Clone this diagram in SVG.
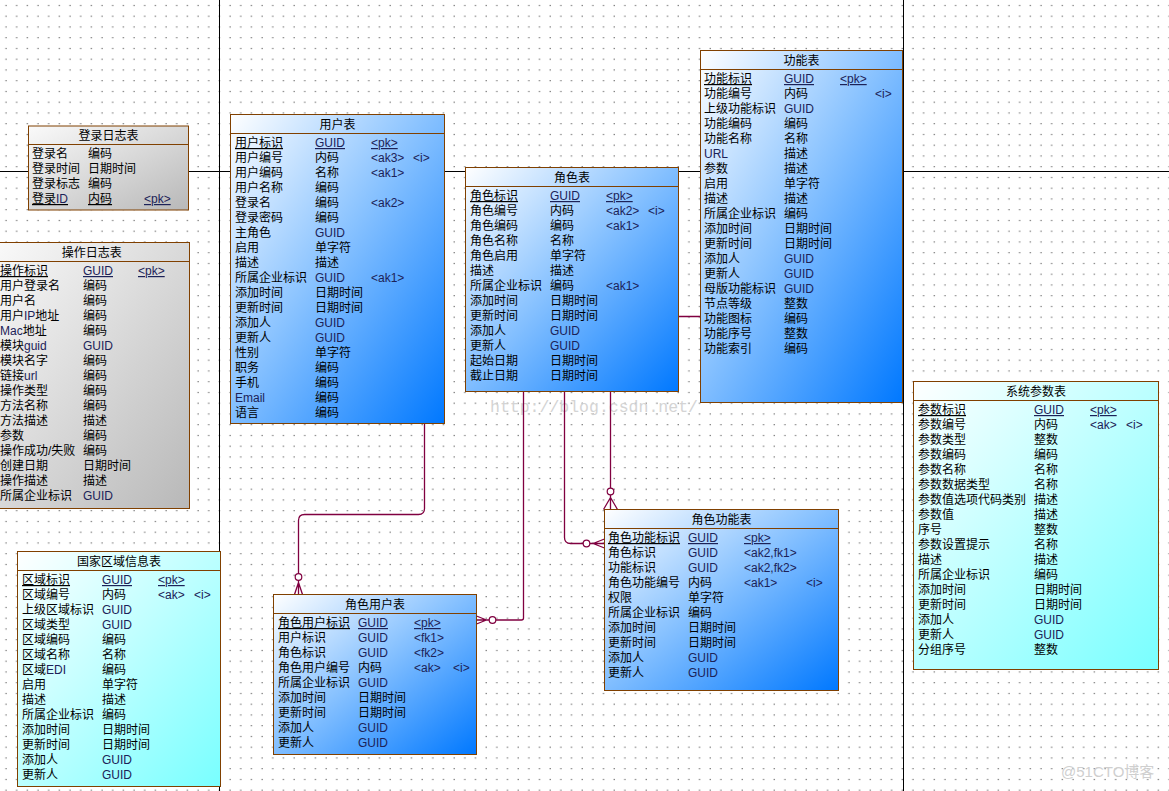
<svg xmlns="http://www.w3.org/2000/svg" width="1169" height="791" viewBox="0 0 1169 791">
<defs>
<pattern id="grid" patternUnits="userSpaceOnUse" x="0" y="0" width="10.67" height="10.75">
<rect x="5.5" y="5" width="1" height="1" fill="#222"/>
</pattern>
<linearGradient id="gBlue" x1="0" y1="0" x2="1" y2="1">
<stop offset="0" stop-color="#ffffff"/>
<stop offset="0.45" stop-color="#8cc4ff"/>
<stop offset="1" stop-color="#0078ff"/>
</linearGradient>
<linearGradient id="gGray" x1="0" y1="0" x2="1" y2="1">
<stop offset="0" stop-color="#fafafa"/>
<stop offset="1" stop-color="#b8b8b8"/>
</linearGradient>
<linearGradient id="gCyan" x1="0" y1="0" x2="1" y2="1">
<stop offset="0" stop-color="#ffffff"/>
<stop offset="1" stop-color="#78ffff"/>
</linearGradient>
</defs>
<style>
text{font-family:"Liberation Sans","Noto Sans CJK SC",sans-serif;font-size:12px;fill:#000}
.ttl{text-anchor:middle}
.e{fill:#1c2258}
.u{text-decoration:underline}
.box{stroke:#804000;stroke-width:1}
.sep{stroke:#804000;stroke-width:1}
.pg{stroke:#000;stroke-width:1;fill:none}
.cn{stroke:#800040;stroke-width:1.3;fill:none}
.ring{stroke:#800040;stroke-width:1.2;fill:#fff}
.wm{font-family:"Liberation Mono",monospace;font-size:16.5px;fill:#d4d4d4}
.wm2{font-size:15px;fill:#cfcfcf}
</style>
<rect width="1169" height="791" fill="#fff"/>
<rect width="1169" height="791" fill="url(#grid)"/>
<g id="page-lines">
<line class="pg" x1="0" y1="171.5" x2="1169" y2="171.5"/>
<line class="pg" x1="219.5" y1="0" x2="219.5" y2="791"/>
<line class="pg" x1="903.5" y1="0" x2="903.5" y2="791"/>
</g>
<text class="wm" x="490" y="412">http://blog.csdn.net/</text>
<g id="connectors">
<path class="cn" d="M424.5,423.5 V508.5 Q424.5,514.5 418.5,514.5 H304.5 Q298.5,514.5 298.5,520.5 V573.7 M298.5,580.3 V594.5 M298.5,582.5 L294.5,594.5 M298.5,582.5 L302.5,594.5"/>
<circle class="ring" cx="298.5" cy="577" r="3.3"/>
<path class="cn" d="M523.5,391.5 V618 Q523.5,620 521.5,620 H495.8 M489.2,620 H476.5 M486.5,620 L476.5,616 M486.5,620 L476.5,624"/>
<circle class="ring" cx="492.5" cy="620" r="3.3"/>
<path class="cn" d="M564.5,391.5 V537.5 Q564.5,543.5 570.5,543.5 H583.2 M589.8,543.5 H604.5 M593,543.5 L604.5,539 M593,543.5 L604.5,548"/>
<circle class="ring" cx="586.5" cy="543.5" r="3.3"/>
<path class="cn" d="M700.5,316.5 H610.5 V488.2 M610.5,494.8 V509.5 M610.5,497.5 L603.5,509.5 M610.5,497.5 L617.5,509.5"/>
<circle class="ring" cx="610.5" cy="491.5" r="3.3"/>
</g>
<g id="login-log">
<rect class="box" x="28.5" y="126" width="160" height="84" fill="url(#gGray)"/>
<line class="sep" x1="28.5" y1="144.5" x2="188.5" y2="144.5"/>
<text class="ttl" x="108.5" y="139.5">登录日志表</text>
<text x="32" y="158">登录名</text><text x="88" y="158">编码</text>
<text x="32" y="173">登录时间</text><text x="88" y="173">日期时间</text>
<text x="32" y="188">登录标志</text><text x="88" y="188">编码</text>
<text class="u" x="32" y="203">登录<tspan class="e">ID</tspan></text><text class="u" x="88" y="203">内码</text><text class="e u" x="144" y="203">&lt;pk&gt;</text>
</g>
<g id="op-log">
<rect class="box" x="-6" y="242.5" width="195.5" height="266" fill="url(#gGray)"/>
<line class="sep" x1="-6" y1="261.5" x2="189.5" y2="261.5"/>
<text class="ttl" x="91.7" y="256.5">操作日志表</text>
<text class="u" x="0" y="275">操作标识</text><text class="e u" x="83" y="275">GUID</text><text class="e u" x="138" y="275">&lt;pk&gt;</text>
<text x="0" y="290">用户登录名</text><text x="83" y="290">编码</text>
<text x="0" y="305">用户名</text><text x="83" y="305">编码</text>
<text x="0" y="320">用户<tspan class="e">IP</tspan>地址</text><text x="83" y="320">编码</text>
<text x="0" y="335"><tspan class="e">Mac</tspan>地址</text><text x="83" y="335">编码</text>
<text x="0" y="350">模块<tspan class="e">guid</tspan></text><text class="e" x="83" y="350">GUID</text>
<text x="0" y="365">模块名字</text><text x="83" y="365">编码</text>
<text x="0" y="380">链接<tspan class="e">url</tspan></text><text x="83" y="380">编码</text>
<text x="0" y="395">操作类型</text><text x="83" y="395">编码</text>
<text x="0" y="410">方法名称</text><text x="83" y="410">编码</text>
<text x="0" y="425">方法描述</text><text x="83" y="425">描述</text>
<text x="0" y="440">参数</text><text x="83" y="440">编码</text>
<text x="0" y="455">操作成功/失败</text><text x="83" y="455">编码</text>
<text x="0" y="470">创建日期</text><text x="83" y="470">日期时间</text>
<text x="0" y="485">操作描述</text><text x="83" y="485">描述</text>
<text x="0" y="500">所属企业标识</text><text class="e" x="83" y="500">GUID</text>
</g>
<g id="user">
<rect class="box" x="230.5" y="114.5" width="214" height="309" fill="url(#gBlue)"/>
<line class="sep" x1="230.5" y1="133.5" x2="444.5" y2="133.5"/>
<text class="ttl" x="337.5" y="128.5">用户表</text>
<text class="u" x="235" y="147">用户标识</text><text class="e u" x="315" y="147">GUID</text><text class="e u" x="371" y="147">&lt;pk&gt;</text>
<text x="235" y="162">用户编号</text><text x="315" y="162">内码</text><text class="e" x="371" y="162">&lt;ak3&gt;</text><text class="e" x="413" y="162">&lt;i&gt;</text>
<text x="235" y="177">用户编码</text><text x="315" y="177">名称</text><text class="e" x="371" y="177">&lt;ak1&gt;</text>
<text x="235" y="192">用户名称</text><text x="315" y="192">编码</text>
<text x="235" y="207">登录名</text><text x="315" y="207">编码</text><text class="e" x="371" y="207">&lt;ak2&gt;</text>
<text x="235" y="222">登录密码</text><text x="315" y="222">编码</text>
<text x="235" y="237">主角色</text><text class="e" x="315" y="237">GUID</text>
<text x="235" y="252">启用</text><text x="315" y="252">单字符</text>
<text x="235" y="267">描述</text><text x="315" y="267">描述</text>
<text x="235" y="282">所属企业标识</text><text class="e" x="315" y="282">GUID</text><text class="e" x="371" y="282">&lt;ak1&gt;</text>
<text x="235" y="297">添加时间</text><text x="315" y="297">日期时间</text>
<text x="235" y="312">更新时间</text><text x="315" y="312">日期时间</text>
<text x="235" y="327">添加人</text><text class="e" x="315" y="327">GUID</text>
<text x="235" y="342">更新人</text><text class="e" x="315" y="342">GUID</text>
<text x="235" y="357">性别</text><text x="315" y="357">单字符</text>
<text x="235" y="372">职务</text><text x="315" y="372">编码</text>
<text x="235" y="387">手机</text><text x="315" y="387">编码</text>
<text class="e" x="235" y="402">Email</text><text x="315" y="402">编码</text>
<text x="235" y="417">语言</text><text x="315" y="417">编码</text>
</g>
<g id="role">
<rect class="box" x="465.5" y="167.5" width="213" height="224" fill="url(#gBlue)"/>
<line class="sep" x1="465.5" y1="186.5" x2="678.5" y2="186.5"/>
<text class="ttl" x="572" y="181.5">角色表</text>
<text class="u" x="470" y="200">角色标识</text><text class="e u" x="550" y="200">GUID</text><text class="e u" x="606" y="200">&lt;pk&gt;</text>
<text x="470" y="215">角色编号</text><text x="550" y="215">内码</text><text class="e" x="606" y="215">&lt;ak2&gt;</text><text class="e" x="648" y="215">&lt;i&gt;</text>
<text x="470" y="230">角色编码</text><text x="550" y="230">编码</text><text class="e" x="606" y="230">&lt;ak1&gt;</text>
<text x="470" y="245">角色名称</text><text x="550" y="245">名称</text>
<text x="470" y="260">角色启用</text><text x="550" y="260">单字符</text>
<text x="470" y="275">描述</text><text x="550" y="275">描述</text>
<text x="470" y="290">所属企业标识</text><text x="550" y="290">编码</text><text class="e" x="606" y="290">&lt;ak1&gt;</text>
<text x="470" y="305">添加时间</text><text x="550" y="305">日期时间</text>
<text x="470" y="320">更新时间</text><text x="550" y="320">日期时间</text>
<text x="470" y="335">添加人</text><text class="e" x="550" y="335">GUID</text>
<text x="470" y="350">更新人</text><text class="e" x="550" y="350">GUID</text>
<text x="470" y="365">起始日期</text><text x="550" y="365">日期时间</text>
<text x="470" y="380">截止日期</text><text x="550" y="380">日期时间</text>
</g>
<g id="function">
<rect class="box" x="700.5" y="50.5" width="202" height="352" fill="url(#gBlue)"/>
<line class="sep" x1="700.5" y1="69.5" x2="902.5" y2="69.5"/>
<text class="ttl" x="801.5" y="64.5">功能表</text>
<text class="u" x="704" y="83">功能标识</text><text class="e u" x="784" y="83">GUID</text><text class="e u" x="840" y="83">&lt;pk&gt;</text>
<text x="704" y="98">功能编号</text><text x="784" y="98">内码</text><text class="e" x="875" y="98">&lt;i&gt;</text>
<text x="704" y="113">上级功能标识</text><text class="e" x="784" y="113">GUID</text>
<text x="704" y="128">功能编码</text><text x="784" y="128">编码</text>
<text x="704" y="143">功能名称</text><text x="784" y="143">名称</text>
<text class="e" x="704" y="158">URL</text><text x="784" y="158">描述</text>
<text x="704" y="173">参数</text><text x="784" y="173">描述</text>
<text x="704" y="188">启用</text><text x="784" y="188">单字符</text>
<text x="704" y="203">描述</text><text x="784" y="203">描述</text>
<text x="704" y="218">所属企业标识</text><text x="784" y="218">编码</text>
<text x="704" y="233">添加时间</text><text x="784" y="233">日期时间</text>
<text x="704" y="248">更新时间</text><text x="784" y="248">日期时间</text>
<text x="704" y="263">添加人</text><text class="e" x="784" y="263">GUID</text>
<text x="704" y="278">更新人</text><text class="e" x="784" y="278">GUID</text>
<text x="704" y="293">母版功能标识</text><text class="e" x="784" y="293">GUID</text>
<text x="704" y="308">节点等级</text><text x="784" y="308">整数</text>
<text x="704" y="323">功能图标</text><text x="784" y="323">编码</text>
<text x="704" y="338">功能序号</text><text x="784" y="338">整数</text>
<text x="704" y="353">功能索引</text><text x="784" y="353">编码</text>
</g>
<g id="sys-param">
<rect class="box" x="913.5" y="381.5" width="245" height="288" fill="url(#gCyan)"/>
<line class="sep" x1="913.5" y1="400.5" x2="1158.5" y2="400.5"/>
<text class="ttl" x="1036" y="395.5">系统参数表</text>
<text class="u" x="918" y="414">参数标识</text><text class="e u" x="1034" y="414">GUID</text><text class="e u" x="1090" y="414">&lt;pk&gt;</text>
<text x="918" y="429">参数编号</text><text x="1034" y="429">内码</text><text class="e" x="1090" y="429">&lt;ak&gt;</text><text class="e" x="1126" y="429">&lt;i&gt;</text>
<text x="918" y="444">参数类型</text><text x="1034" y="444">整数</text>
<text x="918" y="459">参数编码</text><text x="1034" y="459">编码</text>
<text x="918" y="474">参数名称</text><text x="1034" y="474">名称</text>
<text x="918" y="489">参数数据类型</text><text x="1034" y="489">名称</text>
<text x="918" y="504">参数值选项代码类别</text><text x="1034" y="504">描述</text>
<text x="918" y="519">参数值</text><text x="1034" y="519">描述</text>
<text x="918" y="534">序号</text><text x="1034" y="534">整数</text>
<text x="918" y="549">参数设置提示</text><text x="1034" y="549">名称</text>
<text x="918" y="564">描述</text><text x="1034" y="564">描述</text>
<text x="918" y="579">所属企业标识</text><text x="1034" y="579">编码</text>
<text x="918" y="594">添加时间</text><text x="1034" y="594">日期时间</text>
<text x="918" y="609">更新时间</text><text x="1034" y="609">日期时间</text>
<text x="918" y="624">添加人</text><text class="e" x="1034" y="624">GUID</text>
<text x="918" y="639">更新人</text><text class="e" x="1034" y="639">GUID</text>
<text x="918" y="654">分组序号</text><text x="1034" y="654">整数</text>
</g>
<g id="region">
<rect class="box" x="17.5" y="551.5" width="203" height="235" fill="url(#gCyan)"/>
<line class="sep" x1="17.5" y1="570.5" x2="220.5" y2="570.5"/>
<text class="ttl" x="119" y="565.5">国家区域信息表</text>
<text class="u" x="22" y="584">区域标识</text><text class="e u" x="102" y="584">GUID</text><text class="e u" x="158" y="584">&lt;pk&gt;</text>
<text x="22" y="599">区域编号</text><text x="102" y="599">内码</text><text class="e" x="158" y="599">&lt;ak&gt;</text><text class="e" x="194" y="599">&lt;i&gt;</text>
<text x="22" y="614">上级区域标识</text><text class="e" x="102" y="614">GUID</text>
<text x="22" y="629">区域类型</text><text class="e" x="102" y="629">GUID</text>
<text x="22" y="644">区域编码</text><text x="102" y="644">编码</text>
<text x="22" y="659">区域名称</text><text x="102" y="659">名称</text>
<text x="22" y="674">区域<tspan class="e">EDI</tspan></text><text x="102" y="674">编码</text>
<text x="22" y="689">启用</text><text x="102" y="689">单字符</text>
<text x="22" y="704">描述</text><text x="102" y="704">描述</text>
<text x="22" y="719">所属企业标识</text><text x="102" y="719">编码</text>
<text x="22" y="734">添加时间</text><text x="102" y="734">日期时间</text>
<text x="22" y="749">更新时间</text><text x="102" y="749">日期时间</text>
<text x="22" y="764">添加人</text><text class="e" x="102" y="764">GUID</text>
<text x="22" y="779">更新人</text><text class="e" x="102" y="779">GUID</text>
</g>
<g id="role-user">
<rect class="box" x="273.5" y="594.5" width="203" height="160" fill="url(#gBlue)"/>
<line class="sep" x1="273.5" y1="613.5" x2="476.5" y2="613.5"/>
<text class="ttl" x="375" y="608.5">角色用户表</text>
<text class="u" x="278" y="627">角色用户标识</text><text class="e u" x="358" y="627">GUID</text><text class="e u" x="414" y="627">&lt;pk&gt;</text>
<text x="278" y="642">用户标识</text><text class="e" x="358" y="642">GUID</text><text class="e" x="414" y="642">&lt;fk1&gt;</text>
<text x="278" y="657">角色标识</text><text class="e" x="358" y="657">GUID</text><text class="e" x="414" y="657">&lt;fk2&gt;</text>
<text x="278" y="672">角色用户编号</text><text x="358" y="672">内码</text><text class="e" x="414" y="672">&lt;ak&gt;</text><text class="e" x="453" y="672">&lt;i&gt;</text>
<text x="278" y="687">所属企业标识</text><text class="e" x="358" y="687">GUID</text>
<text x="278" y="702">添加时间</text><text x="358" y="702">日期时间</text>
<text x="278" y="717">更新时间</text><text x="358" y="717">日期时间</text>
<text x="278" y="732">添加人</text><text class="e" x="358" y="732">GUID</text>
<text x="278" y="747">更新人</text><text class="e" x="358" y="747">GUID</text>
</g>
<g id="role-function">
<rect class="box" x="604.5" y="509.5" width="234" height="181" fill="url(#gBlue)"/>
<line class="sep" x1="604.5" y1="528.5" x2="838.5" y2="528.5"/>
<text class="ttl" x="721.5" y="523.5">角色功能表</text>
<text class="u" x="608" y="542">角色功能标识</text><text class="e u" x="688" y="542">GUID</text><text class="e u" x="744" y="542">&lt;pk&gt;</text>
<text x="608" y="557">角色标识</text><text class="e" x="688" y="557">GUID</text><text class="e" x="744" y="557">&lt;ak2,fk1&gt;</text>
<text x="608" y="572">功能标识</text><text class="e" x="688" y="572">GUID</text><text class="e" x="744" y="572">&lt;ak2,fk2&gt;</text>
<text x="608" y="587">角色功能编号</text><text x="688" y="587">内码</text><text class="e" x="744" y="587">&lt;ak1&gt;</text><text class="e" x="806" y="587">&lt;i&gt;</text>
<text x="608" y="602">权限</text><text x="688" y="602">单字符</text>
<text x="608" y="617">所属企业标识</text><text x="688" y="617">编码</text>
<text x="608" y="632">添加时间</text><text x="688" y="632">日期时间</text>
<text x="608" y="647">更新时间</text><text x="688" y="647">日期时间</text>
<text x="608" y="662">添加人</text><text class="e" x="688" y="662">GUID</text>
<text x="608" y="677">更新人</text><text class="e" x="688" y="677">GUID</text>
</g>
<text class="wm2" x="1061" y="777">@51CTO博客</text>
</svg>
